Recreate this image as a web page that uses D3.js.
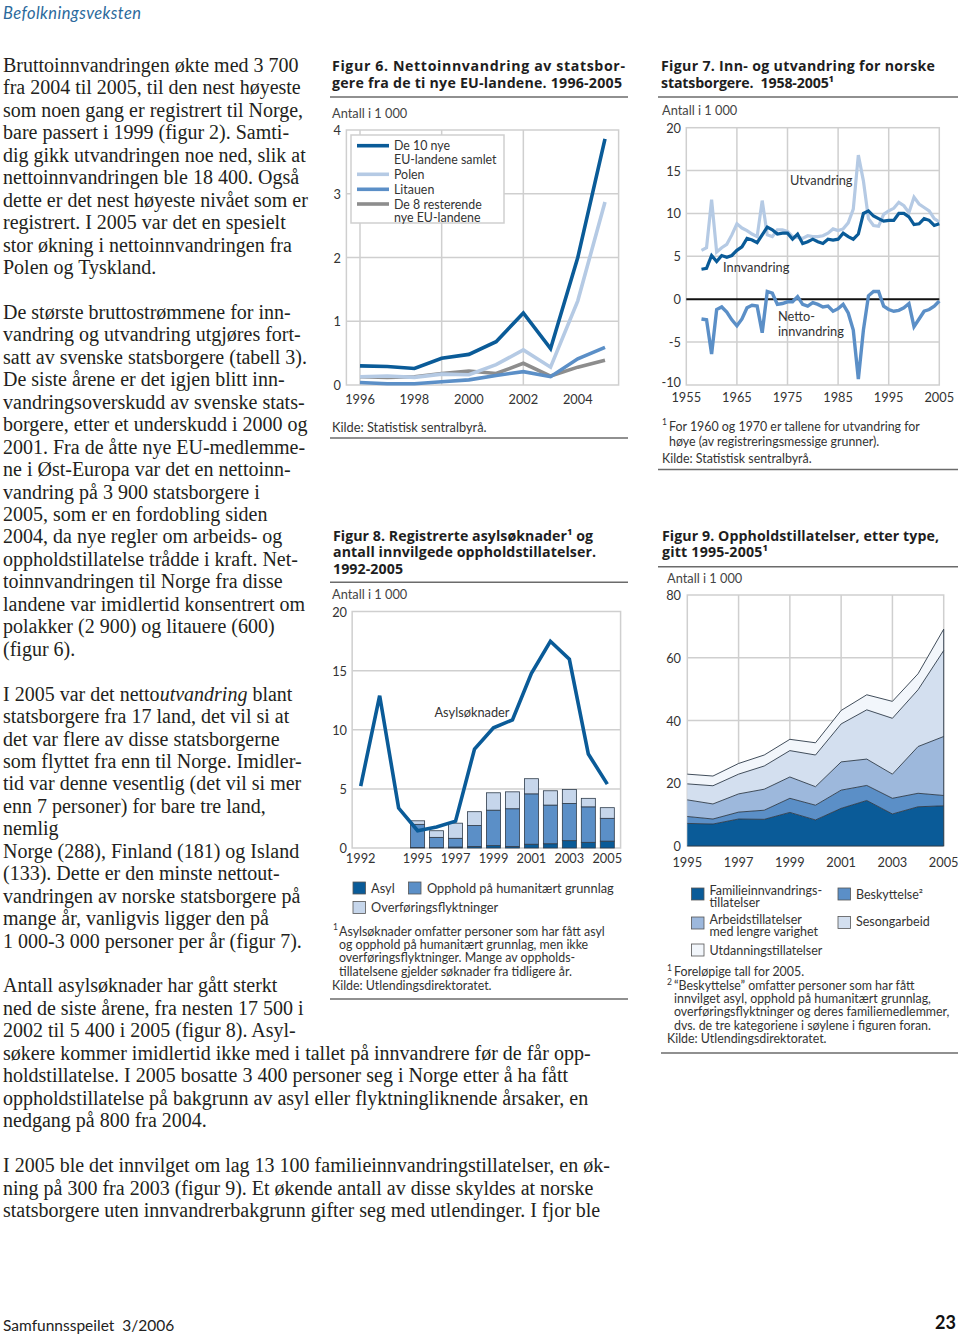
<!DOCTYPE html>
<html><head><meta charset="utf-8">
<script src="https://cdn.jsdelivr.net/npm/d3@7"></script>
<style>body{margin:0;background:#fff}svg{display:block}</style>
</head><body><svg id="c" width="960" height="1334"></svg>
<script>
// ---------- DATA ----------
const fig6Years = [1996,1997,1998,1999,2000,2001,2002,2003,2004,2005];
const fig6Total   = [0.30,0.29,0.26,0.42,0.48,0.68,1.13,0.57,2.00,3.86];
const fig6Polen   = [0.13,0.14,0.12,0.17,0.16,0.32,0.55,0.28,1.32,2.87];
const fig6Litauen = [0.04,0.02,0.02,0.05,0.08,0.15,0.21,0.13,0.41,0.59];
const fig6Rest    = [0.13,0.12,0.13,0.18,0.22,0.18,0.34,0.14,0.28,0.39];
const fig6Names = ["De 10 nye|EU-landene samlet","Polen","Litauen","De 8 resterende|nye EU-landene"];
const fig6XTicks = [1996,1998,2000,2002,2004];
const fig6YTicks = [0,1,2,3,4];

const fig7Years = [1958,1959,1960,1961,1962,1963,1964,1965,1966,1967,1968,1969,1970,1971,1972,1973,1974,1975,1976,1977,1978,1979,1980,1981,1982,1983,1984,1985,1986,1987,1988,1989,1990,1991,1992,1993,1994,1995,1996,1997,1998,1999,2000,2001,2002,2003,2004,2005];
const fig7Ut = [5.7,6.0,11.6,5.5,6.0,6.4,7.5,8.8,8.3,8.0,7.6,7.3,11.5,7.5,7.3,8.1,8.1,7.9,7.3,7.2,7.1,7.4,7.3,7.3,7.4,7.7,8.2,8.0,8.2,8.9,10.5,16.8,13.8,9.4,8.6,8.5,9.9,10.3,10.6,11.3,10.9,10.1,11.9,11.1,10.7,10.3,9.4,9.0];
const fig7Inn = [3.5,3.6,5.1,4.4,5.1,4.9,5.1,5.7,6.1,7.1,6.9,6.6,7.5,8.4,8.1,7.6,7.7,7.7,7.0,7.6,6.5,6.7,7.0,6.7,6.5,7.0,6.9,7.0,7.7,7.3,7.0,7.6,10.0,10.3,9.7,9.4,9.1,9.2,9.2,10.0,10.0,9.6,8.7,8.8,9.4,9.2,8.6,8.8];
const fig7Netto = [-2.3,-2.4,-6.4,-1.2,-0.9,-1.5,-2.4,-3.1,-2.3,-1.0,-0.7,-0.8,-3.9,0.9,0.7,-0.6,-0.5,-0.3,-0.3,0.3,-0.6,-0.8,-0.4,-0.6,-0.9,-0.8,-1.4,-1.1,-0.6,-1.6,-3.6,-9.3,-3.6,0.4,0.9,0.9,-0.8,-1.2,-1.4,-1.3,-1.0,-0.5,-3.2,-2.3,-1.4,-1.2,-0.8,-0.2];
const fig7XTicks = [1955,1965,1975,1985,1995,2005];
const fig7YTicks = [-10,-5,0,5,10,15,20];

const fig8Years = [1992,1993,1994,1995,1996,1997,1998,1999,2000,2001,2002,2003,2004,2005];
const fig8Soknader = [5.24,12.88,3.38,1.46,1.78,2.27,8.37,10.16,10.84,14.78,17.48,15.96,7.95,5.40];
const fig8BarYears = [1995,1996,1997,1998,1999,2000,2001,2002,2003,2004,2005];
const fig8Asyl     = [0.05,0.03,0.08,0.12,0.20,0.12,0.32,0.36,0.62,0.48,0.58];
const fig8Humanitar= [1.95,0.87,0.74,1.78,3.00,3.20,4.26,3.27,3.15,3.00,1.93];
const fig8Overfor  = [0.30,0.56,1.28,1.17,1.47,1.43,1.28,1.21,1.18,0.72,0.90];
const fig8XTicks = [1992,1995,1997,1999,2001,2003,2005];
const fig8YTicks = [0,5,10,15,20];

const fig9Years = [1995,1996,1997,1998,1999,2000,2001,2002,2003,2004,2005];
const fig9Familie   = [7.2,7.0,8.6,8.5,10.7,8.3,12.0,14.5,10.2,12.5,12.8];
const fig9Beskytt   = [2.2,1.6,2.2,2.9,4.5,4.7,5.8,4.8,5.0,4.3,3.3];
const fig9Arbeid    = [5.3,4.8,5.8,6.7,6.8,5.9,9.0,8.4,7.7,14.9,18.8];
const fig9Sesong    = [5.1,5.8,6.3,7.4,8.4,10.1,12.1,15.7,17.8,18.1,27.4];
const fig9Utdanning = [3.1,3.1,3.4,3.5,3.6,3.9,4.3,4.8,5.4,5.1,6.8];
const fig9XTicks = [1995,1997,1999,2001,2003,2005];
const fig9YTicks = [0,20,40,60,80];

const bodyLines = [
"Bruttoinnvandringen økte med 3 700","fra 2004 til 2005, til den nest høyeste","som noen gang er registrert til Norge,","bare passert i 1999 (figur 2). Samti-","dig gikk utvandringen noe ned, slik at","nettoinnvandringen ble 18 400. Også","dette er det nest høyeste nivået som er","registrert. I 2005 var det en spesielt","stor økning i nettoinnvandringen fra","Polen og Tyskland.",
"",
"De største bruttostrømmene for inn-","vandring og utvandring utgjøres fort-","satt av svenske statsborgere (tabell 3).","De siste årene er det igjen blitt inn-","vandringsoverskudd av svenske stats-","borgere, etter et underskudd i 2000 og","2001. Fra de åtte nye EU-medlemme-","ne i Øst-Europa var det en nettoinn-","vandring på 3 900 statsborgere i","2005, som er en fordobling siden","2004, da nye regler om arbeids- og","oppholdstillatelse trådde i kraft. Net-","toinnvandringen til Norge fra disse","landene var imidlertid konsentrert om","polakker (2 900) og litauere (600)","(figur 6).",
"",
"I 2005 var det netto*utvandring* blant","statsborgere fra 17 land, det vil si at","det var flere av disse statsborgerne","som flyttet fra enn til Norge. Imidler-","tid var denne vesentlig (det vil si mer","enn 7 personer) for bare tre land,","nemlig","Norge (288), Finland (181) og Island","(133). Dette er den minste nettout-","vandringen av norske statsborgere på","mange år, vanligvis ligger den på","1 000-3 000 personer per år (figur 7).",
"",
"Antall asylsøknader har gått sterkt","ned de siste årene, fra nesten 17 500 i","2002 til 5 400 i 2005 (figur 8). Asyl-","søkere kommer imidlertid ikke med i tallet på innvandrere før de får opp-","holdstillatelse. I 2005 bosatte 3 400 personer seg i Norge etter å ha fått","oppholdstillatelse på bakgrunn av asyl eller flyktningliknende årsaker, en","nedgang på 800 fra 2004.",
"",
"I 2005 ble det innvilget om lag 13 100 familieinnvandringstillatelser, en øk-","ning på 300 fra 2003 (figur 9). Et økende antall av disse skyldes at norske","statsborgere uten innvandrerbakgrunn gifter seg med utlendinger. I fjor ble"
];

// ---------- STYLE ----------
const SANS = "Lato, 'Open Sans', sans-serif";
const BOLD = "'Open Sans', 'Noto Sans', sans-serif";
const SERIF = "'Liberation Serif', 'Times New Roman', serif";
const C_DARK = "#0a5b98", C_MED = "#5b8fc7", C_LIGHT = "#b5cae4", C_GRAY = "#8d8d8d";
const C_GRID = "#cfcfcf";
const FS = 12.8, FN = 12.4;
const svg = d3.select("#c");

function T(x, y, s, o = {}) {
  const t = svg.append("text").attr("x", x).attr("y", y)
    .attr("font-family", o.ff || SANS).attr("font-size", o.fs || FS)
    .attr("fill", o.fill || "#2a2a2a").attr("text-anchor", o.anchor || "start")
    .attr("dominant-baseline", o.db || "central");
  if (o.fw) t.attr("font-weight", o.fw);
  if (o.fst) t.attr("font-style", o.fst);
  if (o.tl) t.attr("textLength", o.tl).attr("lengthAdjust", "spacing");
  t.text(s);
  return t;
}
function title(x, y, s, tl) { return T(x, y, s, {ff: BOLD, fs: 14.2, fw: "bold", tl, fill: "#1e1e1e"}); }
function rule(x1, x2, y) {
  svg.append("line").attr("x1", x1).attr("x2", x2).attr("y1", y).attr("y2", y)
    .attr("stroke", "#6b6b6b").attr("stroke-width", 1.4);
}

// ---------- HEADER / FOOTER ----------
T(3, 13, "Befolkningsveksten", {fs: 16.5, fst: "italic", fill: "#2c6a9c", tl: 138});
T(3, 1325, "Samfunnsspeilet\u00a0 3/2006", {fs: 15.5, fill: "#222"});
T(956, 1322, "23", {fs: 18, fw: "bold", anchor: "end", fill: "#111"});

// ---------- BODY TEXT ----------
bodyLines.forEach((s, k) => {
  if (!s) return;
  const t = svg.append("text").attr("x", 3).attr("y", 72 + k * 22.45)
    .attr("font-family", SERIF).attr("font-size", 20).attr("fill", "#231f20");
  s.split("*").forEach((p, i) => {
    const ts = t.append("tspan").text(p);
    if (i % 2 === 1) ts.attr("font-style", "italic");
  });
});

// ---------- FIGUR 6 ----------
title(332, 65, "Figur 6. Nettoinnvandring av statsbor-", 293);
title(332, 82, "gere fra de ti nye EU-landene. 1996-2005", 290);
rule(330, 628, 97);
T(332, 113, "Antall i 1 000", {fill: "#444"});
{
  const x = d3.scaleLinear().domain([1996, 2005]).range([360, 605]);
  const y = d3.scaleLinear().domain([0, 4]).range([385, 130]);
  const g = svg.append("g");
  [1, 2, 3].forEach(v => g.append("line").attr("x1", x(1995.5)).attr("x2", x(2005.5))
    .attr("y1", y(v)).attr("y2", y(v)).attr("stroke", C_GRID).attr("stroke-width", 1.5));
  [1996, 1999, 2002].forEach(v => g.append("line").attr("x1", x(v)).attr("x2", x(v))
    .attr("y1", y(0)).attr("y2", y(4)).attr("stroke", C_GRID).attr("stroke-width", 1.5));
  g.append("rect").attr("x", x(1995.5)).attr("y", y(4)).attr("width", x(2005.5) - x(1995.5))
    .attr("height", y(0) - y(4)).attr("fill", "none").attr("stroke", C_GRID).attr("stroke-width", 1.5);
  fig6YTicks.forEach(v => T(341, y(v), String(v), {anchor: "end", fill: "#333"}));
  fig6XTicks.forEach(v => T(x(v), 399, String(v), {anchor: "middle", fill: "#333"}));
  const line = d3.line().x((d, i) => x(fig6Years[i])).y(d => y(d));
  const series = [[fig6Rest, C_GRAY], [fig6Litauen, C_MED], [fig6Polen, C_LIGHT], [fig6Total, C_DARK]];
  series.forEach(([d, c]) => g.append("path").attr("d", line(d)).attr("fill", "none")
    .attr("stroke", c).attr("stroke-width", 3.6).attr("stroke-linejoin", "miter"));
  // legend
  g.append("rect").attr("x", 351).attr("y", 135).attr("width", 153).attr("height", 88)
    .attr("fill", "#fff").attr("stroke", C_GRID).attr("stroke-width", 1.5);
  const legY = [145.7, 174.3, 189.3, 204];
  const legC = [C_DARK, C_LIGHT, C_MED, C_GRAY];
  fig6Names.forEach((n, i) => {
    g.append("line").attr("x1", 357).attr("x2", 389).attr("y1", legY[i]).attr("y2", legY[i])
      .attr("stroke", legC[i]).attr("stroke-width", 3.6);
    n.split("|").forEach((s, j) => T(394, legY[i] + j * 13.7, s, {fill: "#333", fs: FN}));
  });
}
T(332, 427, "Kilde: Statistisk sentralbyrå.", {fill: "#333"});
rule(330, 628, 438);

// ---------- FIGUR 7 ----------
title(661, 65, "Figur 7. Inn- og utvandring for norske", 274);
title(661, 82, "statsborgere.\u00a0 1958-2005¹", 173);
rule(658, 958, 97);
T(662, 110, "Antall i 1 000", {fill: "#444"});
{
  const x = d3.scaleLinear().domain([1955, 2005]).range([686.3, 939.3]);
  const y = d3.scaleLinear().domain([-10, 20]).range([385, 127.7]);
  const g = svg.append("g");
  [-5, 5, 10, 15].forEach(v => g.append("line").attr("x1", x(1955)).attr("x2", x(2005))
    .attr("y1", y(v)).attr("y2", y(v)).attr("stroke", C_GRID).attr("stroke-width", 1.5));
  [1965, 1975, 1985, 1995].forEach(v => g.append("line").attr("x1", x(v)).attr("x2", x(v))
    .attr("y1", y(-10)).attr("y2", y(20)).attr("stroke", C_GRID).attr("stroke-width", 1.5));
  g.append("rect").attr("x", x(1955)).attr("y", y(20)).attr("width", x(2005) - x(1955))
    .attr("height", y(-10) - y(20)).attr("fill", "none").attr("stroke", C_GRID).attr("stroke-width", 1.5);
  g.append("line").attr("x1", x(1955)).attr("x2", x(2005)).attr("y1", y(0)).attr("y2", y(0))
    .attr("stroke", "#111").attr("stroke-width", 1.8);
  fig7YTicks.forEach(v => T(681, y(v) - (v === -10 ? 3 : 0), String(v), {anchor: "end", fill: "#333"}));
  fig7XTicks.forEach(v => T(x(v), 397, String(v), {anchor: "middle", fill: "#333"}));
  const line = d3.line().x((d, i) => x(fig7Years[i])).y(d => y(d));
  g.append("path").attr("d", line(fig7Ut)).attr("fill", "none").attr("stroke", C_LIGHT).attr("stroke-width", 3.2);
  g.append("path").attr("d", line(fig7Inn)).attr("fill", "none").attr("stroke", C_DARK).attr("stroke-width", 3.2);
  g.append("path").attr("d", line(fig7Netto)).attr("fill", "none").attr("stroke", C_MED).attr("stroke-width", 3.4);
  T(790, 180, "Utvandring", {fill: "#333"});
  T(723, 267, "Innvandring", {fill: "#333"});
  T(778, 316, "Netto-", {fill: "#333"});
  T(778, 331, "innvandring", {fill: "#333"});
}
T(662, 422, "1", {fs: 8.5, fill: "#333"});
T(669, 426.5, "For 1960 og 1970 er tallene for utvandring for", {fill: "#333", fs: FN});
T(669, 441.5, "høye (av registreringsmessige grunner).", {fill: "#333", fs: FN});
T(662, 458, "Kilde: Statistisk sentralbyrå.", {fill: "#333", fs: FN});
rule(658, 958, 469.5);

// ---------- FIGUR 8 ----------
title(333, 535, "Figur 8. Registrerte asylsøknader¹ og", 260);
title(333, 551.5, "antall innvilgede oppholdstillatelser.", 263);
title(333, 568, "1992-2005", 70);
rule(330, 628, 582.3);
T(332, 594, "Antall i 1 000", {fill: "#444"});
{
  const x = d3.scaleLinear().domain([1992, 2005]).range([360.7, 607.3]);
  const y = d3.scaleLinear().domain([0, 20]).range([848, 611.5]);
  const g = svg.append("g");
  [5, 10, 15].forEach(v => g.append("line").attr("x1", x(1991.55)).attr("x2", x(2005.7))
    .attr("y1", y(v)).attr("y2", y(v)).attr("stroke", C_GRID).attr("stroke-width", 1.5));
  g.append("rect").attr("x", x(1991.55)).attr("y", y(20)).attr("width", x(2005.7) - x(1991.55))
    .attr("height", y(0) - y(20)).attr("fill", "none").attr("stroke", C_GRID).attr("stroke-width", 1.5);
  fig8YTicks.forEach(v => T(347, y(v), String(v), {anchor: "end", fill: "#333"}));
  fig8XTicks.forEach(v => T(x(v), 858, String(v), {anchor: "middle", fill: "#333"}));
  const bw = (x(1) - x(0)) * 0.74;
  const rows = fig8BarYears.map((yr, i) => ({yr, a: fig8Asyl[i], h: fig8Humanitar[i], o: fig8Overfor[i]}));
  const stack = d3.stack().keys(["a", "h", "o"])(rows);
  const cols = {a: C_DARK, h: C_MED, o: "#c6d6eb"};
  stack.forEach(layer => {
    g.selectAll(null).data(layer).enter().append("rect")
      .attr("x", d => x(d.data.yr) - bw / 2).attr("width", bw)
      .attr("y", d => y(d[1])).attr("height", d => y(d[0]) - y(d[1]))
      .attr("fill", cols[layer.key]).attr("stroke", "#2e3b4a").attr("stroke-width", 0.8);
  });
  const line = d3.line().x((d, i) => x(fig8Years[i])).y(d => y(d));
  g.append("path").attr("d", line(fig8Soknader)).attr("fill", "none").attr("stroke", C_DARK)
    .attr("stroke-width", 3.6).attr("stroke-linejoin", "miter");
  T(472, 712, "Asylsøknader", {anchor: "middle", fill: "#333"});
}
// legend 8
[[353, 882, C_DARK, "Asyl", 371, 888], [408.5, 882, C_MED, "Opphold på humanitært grunnlag", 427, 888],
 [353, 901.5, "#c6d6eb", "Overføringsflyktninger", 371, 907]].forEach(([sx, sy, c, s, tx, ty]) => {
  svg.append("rect").attr("x", sx).attr("y", sy).attr("width", 12.5).attr("height", 12)
    .attr("fill", c).attr("stroke", "#555").attr("stroke-width", 0.8);
  T(tx, ty, s, {fill: "#333"});
});
T(333, 927, "1", {fs: 8.5, fill: "#333"});
T(339, 931, "Asylsøknader omfatter personer som har fått asyl", {fill: "#333", fs: FN});
T(339, 944.5, "og opphold på humanitært grunnlag, men ikke", {fill: "#333", fs: FN});
T(339, 957.5, "overføringsflyktninger. Mange av oppholds-", {fill: "#333", fs: FN});
T(339, 971, "tillatelsene gjelder søknader fra tidligere år.", {fill: "#333", fs: FN});
T(332, 985.5, "Kilde: Utlendingsdirektoratet.", {fill: "#333", fs: FN});
rule(330, 628, 999);

// ---------- FIGUR 9 ----------
title(662, 535, "Figur 9. Oppholdstillatelser, etter type,", 277);
title(662, 551.5, "gitt 1995-2005¹", 106);
rule(658, 958, 566.7);
T(667, 577.5, "Antall i 1 000", {fill: "#444"});
{
  const x = d3.scaleLinear().domain([1995, 2005]).range([687.3, 943.7]);
  const y = d3.scaleLinear().domain([0, 80]).range([846, 595]);
  const g = svg.append("g");
  [20, 40, 60].forEach(v => g.append("line").attr("x1", x(1995)).attr("x2", x(2005))
    .attr("y1", y(v)).attr("y2", y(v)).attr("stroke", C_GRID).attr("stroke-width", 1.5));
  [1997, 1999, 2001, 2003].forEach(v => g.append("line").attr("x1", x(v)).attr("x2", x(v))
    .attr("y1", y(0)).attr("y2", y(80)).attr("stroke", C_GRID).attr("stroke-width", 1.5));
  g.append("rect").attr("x", x(1995)).attr("y", y(80)).attr("width", x(2005) - x(1995))
    .attr("height", y(0) - y(80)).attr("fill", "none").attr("stroke", C_GRID).attr("stroke-width", 1.5);
  fig9YTicks.forEach(v => T(681, y(v), String(v), {anchor: "end", fill: "#333"}));
  fig9XTicks.forEach(v => T(x(v), 862, String(v), {anchor: "middle", fill: "#333"}));
  const keys = ["fam", "besk", "arb", "ses", "utd"];
  const rows = fig9Years.map((yr, i) => ({yr, fam: fig9Familie[i], besk: fig9Beskytt[i],
    arb: fig9Arbeid[i], ses: fig9Sesong[i], utd: fig9Utdanning[i]}));
  const st = d3.stack().keys(keys)(rows);
  const cols = {fam: C_DARK, besk: C_MED, arb: "#9db8dc", ses: "#d3dfef", utd: "#f2f6fb"};
  const area = d3.area().x(d => x(d.data.yr)).y0(d => y(d[0])).y1(d => y(d[1]));
  const top = d3.line().x(d => x(d.data.yr)).y(d => y(d[1]));
  st.forEach(l => g.append("path").attr("d", area(l)).attr("fill", cols[l.key]));
  st.forEach(l => g.append("path").attr("d", top(l)).attr("fill", "none")
    .attr("stroke", "#2d3a48").attr("stroke-width", 0.9));
  const last = st[st.length - 1][fig9Years.length - 1][1];
  g.append("line").attr("x1", x(2005)).attr("x2", x(2005)).attr("y1", y(0)).attr("y2", y(last))
    .attr("stroke", "#2d3a48").attr("stroke-width", 0.9);
  g.append("line").attr("x1", x(1995)).attr("x2", x(2005)).attr("y1", y(0)).attr("y2", y(0))
    .attr("stroke", "#2d3a48").attr("stroke-width", 0.9);
}
// legend 9
[[691.5, 888, C_DARK, ["Familieinnvandrings-", "tillatelser"], 890],
 [838, 888, C_MED, ["Beskyttelse²"], 894.5],
 [691.5, 917, "#9db8dc", ["Arbeidstillatelser", "med lengre varighet"], 919],
 [838, 916.5, "#d3dfef", ["Sesongarbeid"], 921.5],
 [691.5, 944, "#f2f6fb", ["Utdanningstillatelser"], 950]].forEach(([sx, sy, c, ls, ty]) => {
  svg.append("rect").attr("x", sx).attr("y", sy).attr("width", 12.5).attr("height", 12)
    .attr("fill", c).attr("stroke", "#555").attr("stroke-width", 0.8);
  ls.forEach((s, j) => T(sx + 18, ty + j * 12.6, s, {fill: "#333", fs: 12.5}));
});
T(667, 968, "1", {fs: 8.5, fill: "#333"});
T(674, 971.5, "Foreløpige tall for 2005.", {fill: "#333", fs: FN});
T(667, 981.5, "2", {fs: 8.5, fill: "#333"});
T(674, 985, "“Beskyttelse” omfatter personer som har fått", {fill: "#333", fs: FN});
T(674, 998.3, "innvilget asyl, opphold på humanitært grunnlag,", {fill: "#333", fs: FN});
T(674, 1011.7, "overføringsflyktninger og deres familiemedlemmer,", {fill: "#333", fs: FN});
T(674, 1025, "dvs. de tre kategoriene i søylene i figuren foran.", {fill: "#333", fs: FN});
T(667, 1038.5, "Kilde: Utlendingsdirektoratet.", {fill: "#333", fs: FN});
rule(661, 958, 1053);
</script></body></html>
